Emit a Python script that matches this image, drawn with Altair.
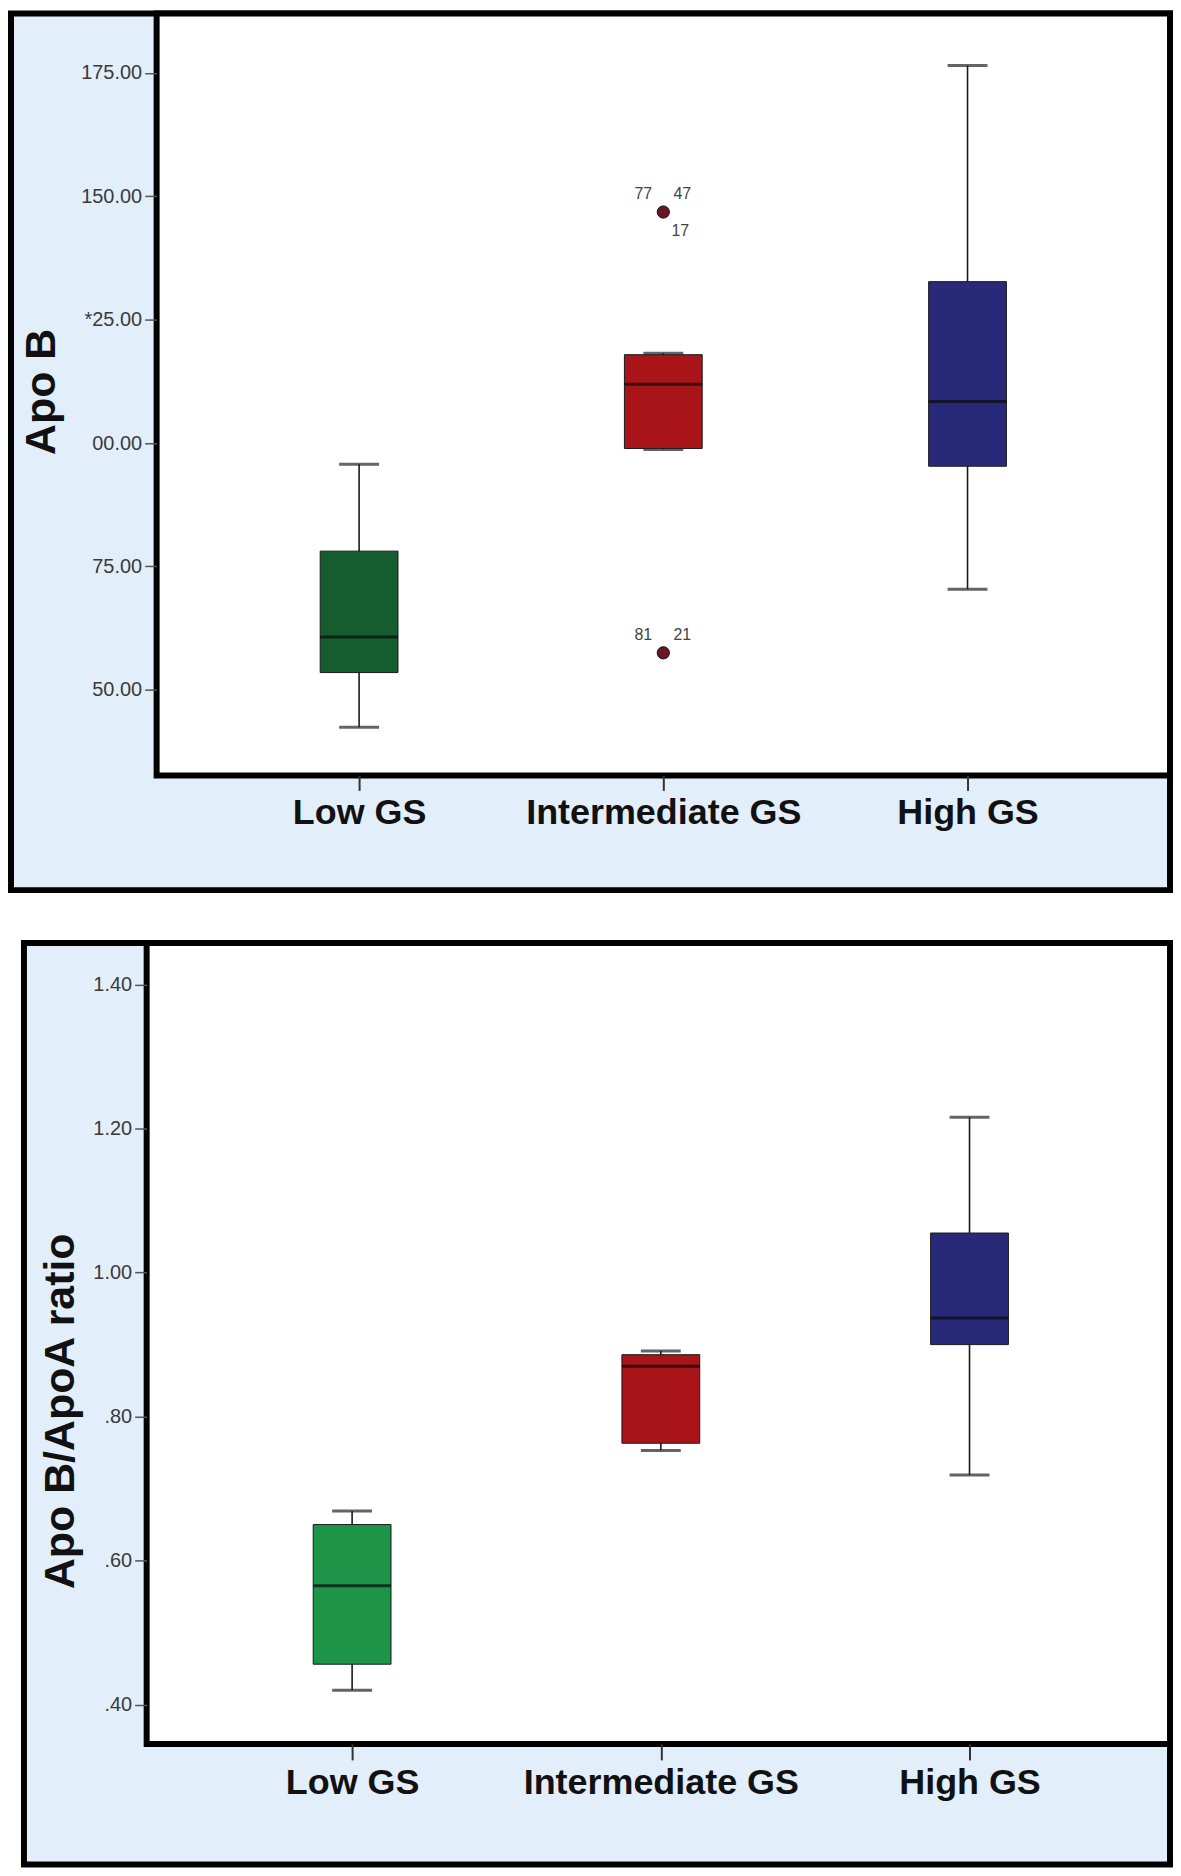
import altair as alt
import pandas as pd

FONT = "Liberation Sans"
PANEL_BG = "#E2EEFA"

groups = ["Low GS", "Intermediate GS", "High GS"]

# ---- Panel 1: Apo B ----
apob_whisker_low = [42.4, 98.7, 70.4]
apob_q1 = [53.5, 98.9, 95.3]
apob_median = [60.7, 111.9, 108.4]
apob_q3 = [78.1, 117.9, 132.7]
apob_whisker_high = [95.7, 118.2, 176.5]

apob_outlier_group = ["Intermediate GS", "Intermediate GS"]
apob_outlier_value = [146.8, 57.5]

apob_label_text = ["77", "47", "17", "81", "21"]
apob_label_group = ["Intermediate GS"] * 5
apob_label_value = [146.8, 146.8, 146.8, 57.5, 57.5]
apob_label_corner = ["upper-left", "upper-right", "lower-right", "upper-left", "upper-right"]

apob_ticks = [50, 75, 100, 125, 150, 175]
apob_tick_labels = ["50.00", "75.00", "00.00", "*25.00", "150.00", "175.00"]
apob_colors = ["#155C2E", "#A91419", "#29297A"]

# ---- Panel 2: Apo B/ApoA ratio ----
ratio_whisker_low = [0.420, 0.753, 0.719]
ratio_q1 = [0.456, 0.763, 0.900]
ratio_median = [0.565, 0.870, 0.937]
ratio_q3 = [0.650, 0.886, 1.055]
ratio_whisker_high = [0.669, 0.891, 1.216]

ratio_ticks = [0.4, 0.6, 0.8, 1.0, 1.2, 1.4]
ratio_tick_labels = [".40", ".60", ".80", "1.00", "1.20", "1.40"]
ratio_colors = ["#1D9448", "#A91419", "#29297A"]


def label_expr(ticks, labels):
    expr = "''"
    for t, l in zip(reversed(ticks), reversed(labels)):
        expr = f"abs(datum.value - {t}) < 1e-6 ? '{l}' : ({expr})"
    return expr


CORNER_OFFSETS = {
    "upper-left": (-20, -18),
    "upper-right": (19, -18),
    "lower-right": (17, 19),
}


def make_panel(stats, outliers, labels, ticks, tick_labels, colors, ytitle, g):
    one = pd.DataFrame({"k": [0]})
    outer = alt.Chart(one).mark_rect(fill=PANEL_BG, stroke="black", strokeWidth=6).encode(
        x=alt.value(g["ox0"]), x2=alt.value(g["ox1"]),
        y=alt.value(g["oy0"]), y2=alt.value(g["oy1"]))
    inner = alt.Chart(one).mark_rect(fill="white", stroke="black", strokeWidth=6).encode(
        x=alt.value(g["px0"]), x2=alt.value(g["px1"]),
        y=alt.value(g["py0"]), y2=alt.value(g["py1"]))

    xaxis = alt.Axis(
        title=None, labelAngle=0, offset=g["xoff"], domain=False, grid=False,
        tickSize=g["xtick"], tickWidth=2, tickColor="#333",
        labelFont=FONT, labelFontSize=36, labelFontWeight="bold", labelColor="#111",
        labelPadding=g["xpad"], labelLimit=0, labelOverlap=False, zindex=1)
    yaxis = alt.Axis(
        title=ytitle, values=ticks, labelExpr=label_expr(ticks, tick_labels),
        offset=g["yoff"], domain=False, grid=False,
        tickSize=12, tickWidth=1.5, tickColor="#555",
        labelFont=FONT, labelFontSize=20, labelColor="#3a3a3a", labelPadding=3,
        titleFont=FONT, titleFontSize=43, titleFontWeight="bold", titleColor="#111",
        titleAngle=270, titleX=g["titleX"], titleY=g["titleY"],
        titleAlign="center", titleBaseline="middle", zindex=1)

    xscale = alt.Scale(type="point", domain=groups, range=g["xr"], padding=0)
    yscale = alt.Scale(domain=[ticks[0], ticks[-1]], range=g["yr"], nice=False, zero=False)
    X = alt.X("group:N", scale=xscale, axis=xaxis)

    def Y(field):
        return alt.Y(f"{field}:Q", scale=yscale, axis=yaxis)

    base = alt.Chart(stats)
    whisk = base.mark_rule(color="#1a1a1a", strokeWidth=1.6).encode(
        x=X, y=Y("wlo"), y2="whi:Q")
    cap_hi = base.mark_tick(size=40, thickness=3, color="#222").encode(x=X, y=Y("whi"))
    cap_lo = base.mark_tick(size=40, thickness=3, color="#222").encode(x=X, y=Y("wlo"))
    box = base.mark_bar(size=78, stroke="#1a1a1a", strokeWidth=1).encode(
        x=X, y=Y("q1"), y2="q3:Q",
        fill=alt.Fill("group:N", scale=alt.Scale(domain=groups, range=colors), legend=None))
    med = base.mark_tick(size=78, thickness=3, color="#0a0a0a").encode(x=X, y=Y("med"))

    layers = [outer, inner, whisk, box, cap_hi, cap_lo, med]

    if outliers is not None:
        pts = alt.Chart(outliers).mark_circle(
            size=150, color="#6B1522", stroke="#111", strokeWidth=1, opacity=1
        ).encode(x=X, y=Y("value"))
        layers.append(pts)
        for corner, (dx, dy) in CORNER_OFFSETS.items():
            txt = alt.Chart(labels).transform_filter(alt.datum.corner == corner).mark_text(
                dx=dx, dy=dy, font=FONT, fontSize=16, color="#444"
            ).encode(x=X, y=Y("value"), text="label:N")
            layers.append(txt)

    return alt.layer(*layers).properties(width=g["W"], height=g["H"])


apob_stats = pd.DataFrame({
    "group": groups, "wlo": apob_whisker_low, "q1": apob_q1, "med": apob_median,
    "q3": apob_q3, "whi": apob_whisker_high})
apob_out = pd.DataFrame({"group": apob_outlier_group, "value": apob_outlier_value})
apob_lab = pd.DataFrame({"group": apob_label_group, "value": apob_label_value,
                         "label": apob_label_text, "corner": apob_label_corner})

ratio_stats = pd.DataFrame({
    "group": groups, "wlo": ratio_whisker_low, "q1": ratio_q1, "med": ratio_median,
    "q3": ratio_q3, "whi": ratio_whisker_high})

g_top = dict(W=1168, H=885, ox0=3, ox1=1165, oy0=3, oy1=882,
             px0=149, px1=1165, py0=3, py1=767,
             xr=[352, 962], yr=[681.2, 62.6],
             xoff=-118, xtick=15, xpad=5, yoff=-149, titleX=-115, titleY=382)
g_bot = dict(W=1168, H=930, ox0=16, ox1=1165, oy0=3, oy1=927,
             px0=139, px1=1165, py0=3, py1=806,
             xr=[345, 964], yr=[766.5, 44.8],
             xoff=-124, xtick=16, xpad=6, yoff=-139, titleX=-86, titleY=472)

top = make_panel(apob_stats, apob_out, apob_lab, apob_ticks, apob_tick_labels,
                 apob_colors, "Apo B", g_top)
bottom = make_panel(ratio_stats, None, None, ratio_ticks, ratio_tick_labels,
                    ratio_colors, "Apo B/ApoA ratio", g_bot)

chart = alt.vconcat(top, bottom, spacing=47, bounds="flush").resolve_scale(
    x="independent", y="independent", fill="independent"
).properties(padding=0, background="white").configure_view(strokeWidth=0)

chart.save("out.html", embed_options={"renderer": "svg", "actions": False})
